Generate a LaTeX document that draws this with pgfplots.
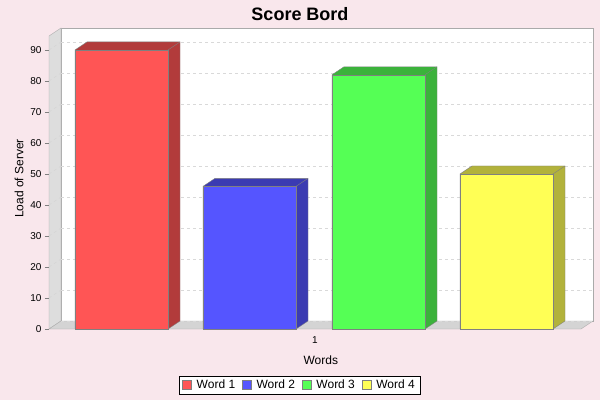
\documentclass[border=0pt]{standalone}
\usepackage{fontspec}
\setmainfont{Liberation Sans}
\usepackage{pgfplots}
\pgfplotsset{compat=1.18}

\definecolor{bg}{RGB}{249,231,236}
\definecolor{wallgray}{RGB}{221,221,221}
\definecolor{floorgray}{RGB}{212,212,212}
\definecolor{edgegray}{RGB}{170,170,170}
\definecolor{outl}{RGB}{128,128,128}
\definecolor{c1}{RGB}{255,85,85}   \definecolor{d1}{RGB}{178,59,59}
\definecolor{c2}{RGB}{85,85,255}   \definecolor{d2}{RGB}{59,59,178}
\definecolor{c3}{RGB}{85,255,85}   \definecolor{d3}{RGB}{59,178,59}
\definecolor{c4}{RGB}{255,255,85}  \definecolor{d4}{RGB}{178,178,59}

\begin{document}
\begin{tikzpicture}[x=1pt,y=1pt]
% page and background
\useasboundingbox (0,0) rectangle (600,400);
\fill[bg] (0,0) rectangle (600,400);

% 3D walls (decoration, pixel coords with y flipped)
\filldraw[fill=white, draw=edgegray] (61,79) rectangle (593,372);
\filldraw[fill=wallgray, draw=edgegray] (49,71) -- (49,364) -- (61,372) -- (61,79) -- cycle;
\filldraw[fill=floorgray, draw=edgegray] (49,71) -- (61,79) -- (593,79) -- (581,71) -- cycle;
\foreach \k in {1,...,9}
  \draw[gray!35, dashed] (49,{71+31*\k}) -- (61,{79+31*\k});

% title
\node[font=\bfseries\fontsize{18}{20}\selectfont] at (300,386) {Score Bord};

\begin{axis}[
    at={(49pt,71pt)}, anchor=south west,
    scale only axis, width=532pt, height=293pt,
    xmin=49, xmax=581,
    ymin=0, ymax=94.5,
    clip=false,
    axis line style={draw=none},
    xtick={315}, xticklabels={1},
    xtick style={draw=none},
    ytick={0,10,...,90},
    ytick pos=left,
    tick align=outside,
    major tick length=4pt,
    ytick style={outl, line width=0.6pt},
    ymajorgrids=true,
    major grid style={dashed, gray!30, shift={(12pt,8pt)}},
    tick label style={font=\fontsize{10}{12}\selectfont},
    /pgf/number format/assume math mode=true,
    xlabel={Words},
    ylabel={Load of Server},
    label style={font=\fontsize{12}{14}\selectfont},
    xlabel style={at={(axis description cs:0.511,-0.106)}, anchor=center},
    ylabel style={at={(axis description cs:-0.0564,0.514)}, anchor=center, rotate=0},
    legend columns=4,
    legend style={at={(axis description cs:0.471,-0.191)}, anchor=center,
        draw=black, fill=white, font=\fontsize{12}{14}\selectfont,
        inner xsep=3pt, inner ysep=2pt,
        /tikz/every odd column/.append style={column sep=3pt},
        /tikz/every even column/.append style={column sep=5pt}},
    legend image code/.code={\draw[#1, draw=outl] (0pt,-4.5pt) rectangle (9pt,4.5pt);},
]

% Word 1
\addplot[fill=d1, draw=outl, forget plot] coordinates
  {(75,0) (75,90) (87,92.58) (180,92.58) (180,2.58) (168,0) (75,0)};
\addplot[ybar, bar width=93, bar shift=0pt, fill=c1, draw=outl] coordinates {(121.5,90)};
\addlegendentry{Word 1}
\addplot[outl, forget plot] coordinates {(168,90) (180,92.58)};

% Word 2
\addplot[fill=d2, draw=outl, forget plot] coordinates
  {(203,0) (203,46) (215,48.58) (308,48.58) (308,2.58) (296,0) (203,0)};
\addplot[ybar, bar width=93, bar shift=0pt, fill=c2, draw=outl] coordinates {(249.5,46)};
\addlegendentry{Word 2}
\addplot[outl, forget plot] coordinates {(296,46) (308,48.58)};

% Word 3
\addplot[fill=d3, draw=outl, forget plot] coordinates
  {(332,0) (332,82) (344,84.58) (437,84.58) (437,2.58) (425,0) (332,0)};
\addplot[ybar, bar width=93, bar shift=0pt, fill=c3, draw=outl] coordinates {(378.5,82)};
\addlegendentry{Word 3}
\addplot[outl, forget plot] coordinates {(425,82) (437,84.58)};

% Word 4
\addplot[fill=d4, draw=outl, forget plot] coordinates
  {(460,0) (460,50) (472,52.58) (565,52.58) (565,2.58) (553,0) (460,0)};
\addplot[ybar, bar width=93, bar shift=0pt, fill=c4, draw=outl] coordinates {(506.5,50)};
\addlegendentry{Word 4}
\addplot[outl, forget plot] coordinates {(553,50) (565,52.58)};

\end{axis}
\end{tikzpicture}
\end{document}
